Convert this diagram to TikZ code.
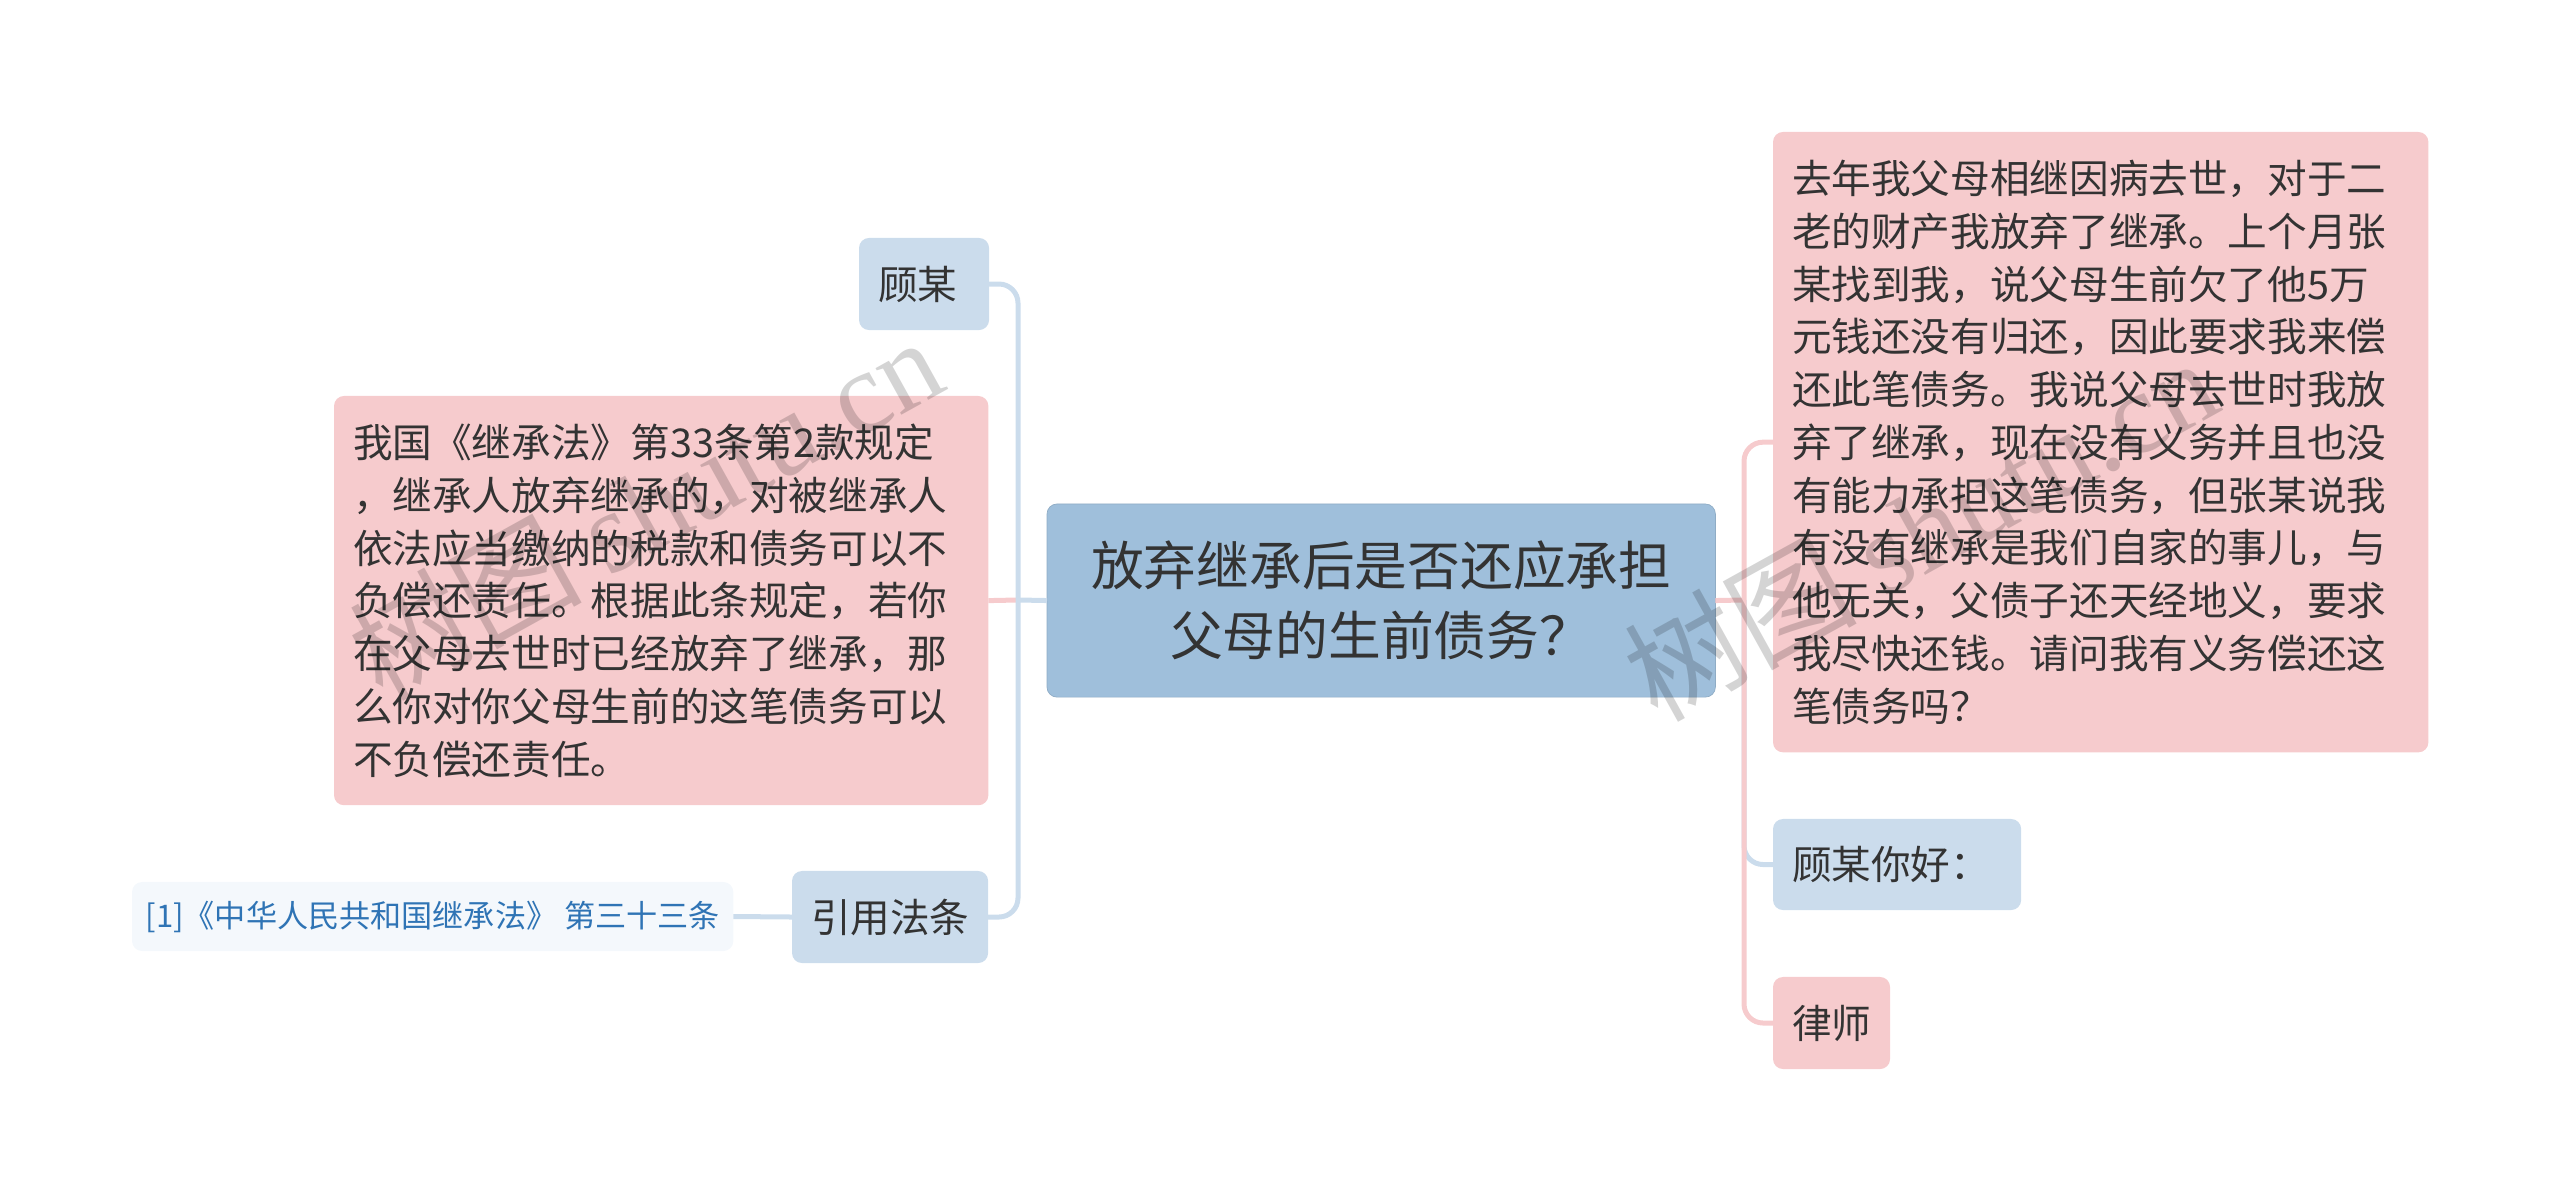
\documentclass[tikz,border=0pt]{standalone}
\usepackage{fontspec}
\setmainfont{Noto Sans CJK SC}
\newfontfamily\markserif{Liberation Serif}
\definecolor{rootcolor}{HTML}{9FBFDB}
\definecolor{pinkcolor}{HTML}{F6CBCD}
\definecolor{bluecolor}{HTML}{CBDCEC}
\definecolor{citecolor}{HTML}{F4F8FC}
\definecolor{citetext}{HTML}{2F74B5}
\definecolor{bodytext}{HTML}{333333}
\tikzset{
	box/.style = {anchor=north west, rounded corners=0.1cm, inner xsep=0.19cm, inner ysep=0, outer sep=0, align=left, text=bodytext, font=\fontsize{11.27}{15}\selectfont},
	pinkbox/.style = {box, fill=pinkcolor},
	bluebox/.style = {box, fill=bluecolor},
	rootbox/.style = {box, fill=rootcolor, draw=rootcolor!90!black, line width=0.2pt, align=center, inner xsep=0.2cm, font=\fontsize{15}{19.9}\selectfont},
	citebox/.style = {box, fill=citecolor, text=citetext, inner xsep=0, font=\fontsize{8.85}{11}\selectfont},
	linkpink/.style = {draw=pinkcolor, line width=0.05cm, rounded corners=0.19cm},
	linkblue/.style = {draw=bluecolor, line width=0.05cm, rounded corners=0.19cm},
	watermark/.style = {rotate=29, text=black, opacity=0.17, font=\fontsize{33}{33}\selectfont}
}

\begin{document}
\begin{tikzpicture}[x=0.01cm, y=-0.01cm]
	\useasboundingbox (0,0) rectangle (2560,1201);
	\node[rootbox, text width=6.28cm, minimum height=1.93cm] (root) at (1047,504) {放弃继承后是否还应承担\\父母的生前债务？};
	% left side
	\node[bluebox, text width=0.92cm, minimum height=0.92cm] (gumou) at (859,238) {顾某};
	\node[pinkbox, text width=6.16cm, minimum height=4.09cm] (lawbox) at (334,396) {我国《继承法》第33条第2款规定\\，继承人放弃继承的，对被继承人\\依法应当缴纳的税款和债务可以不\\负偿还责任。根据此条规定，若你\\在父母去世时已经放弃了继承，那\\么你对你父母生前的这笔债务可以\\不负偿还责任。};
	\node[bluebox, text width=1.58cm, minimum height=0.92cm] (quote) at (792,871) {引用法条};
	\node[citebox, minimum width=6.01cm, minimum height=0.69cm] (cite) at (132,882) {[1]《中华人民共和国继承法》 第三十三条};
	% right side
	\node[pinkbox, text width=6.17cm, minimum height=6.2cm] (story) at (1773,132) {去年我父母相继因病去世，对于二\\老的财产我放弃了继承。上个月张\\某找到我，说父母生前欠了他5万\\元钱还没有归还，因此要求我来偿\\还此笔债务。我说父母去世时我放\\弃了继承，现在没有义务并且也没\\有能力承担这笔债务，但张某说我\\有没有继承是我们自家的事儿，与\\他无关，父债子还天经地义，要求\\我尽快还钱。请问我有义务偿还这\\笔债务吗？};
	\node[bluebox, text width=2.1cm, minimum height=0.91cm] (hello) at (1773,819) {顾某你好：};
	\node[pinkbox, text width=0.79cm, minimum height=0.92cm] (lawyer) at (1773,977) {律师};
	\coordinate (lefthub) at (1018,600);
	\coordinate (righthub) at (1744,600);
	% connectors
	\draw[linkpink] (lawbox.east) -- (lefthub);
	\draw[linkblue] (root.west) -- (lefthub);
	\draw[linkblue] (gumou.east) -| (lefthub) |- (quote.east);
	\draw[linkblue] (quote.west) -- (cite.east);
	\draw[linkblue] (righthub) |- (hello.west);
	\draw[linkpink] (root.east) -- (righthub);
	\draw[linkpink] (story.west) -| (righthub) |- (lawyer.west);
	% watermarks
	\node[watermark] (markleft) at (645,507) {树图 {\markserif shutu.cn}};
	\node[watermark] (markright) at (1920,528) {树图 {\markserif shutu.cn}};
\end{tikzpicture}
\end{document}
